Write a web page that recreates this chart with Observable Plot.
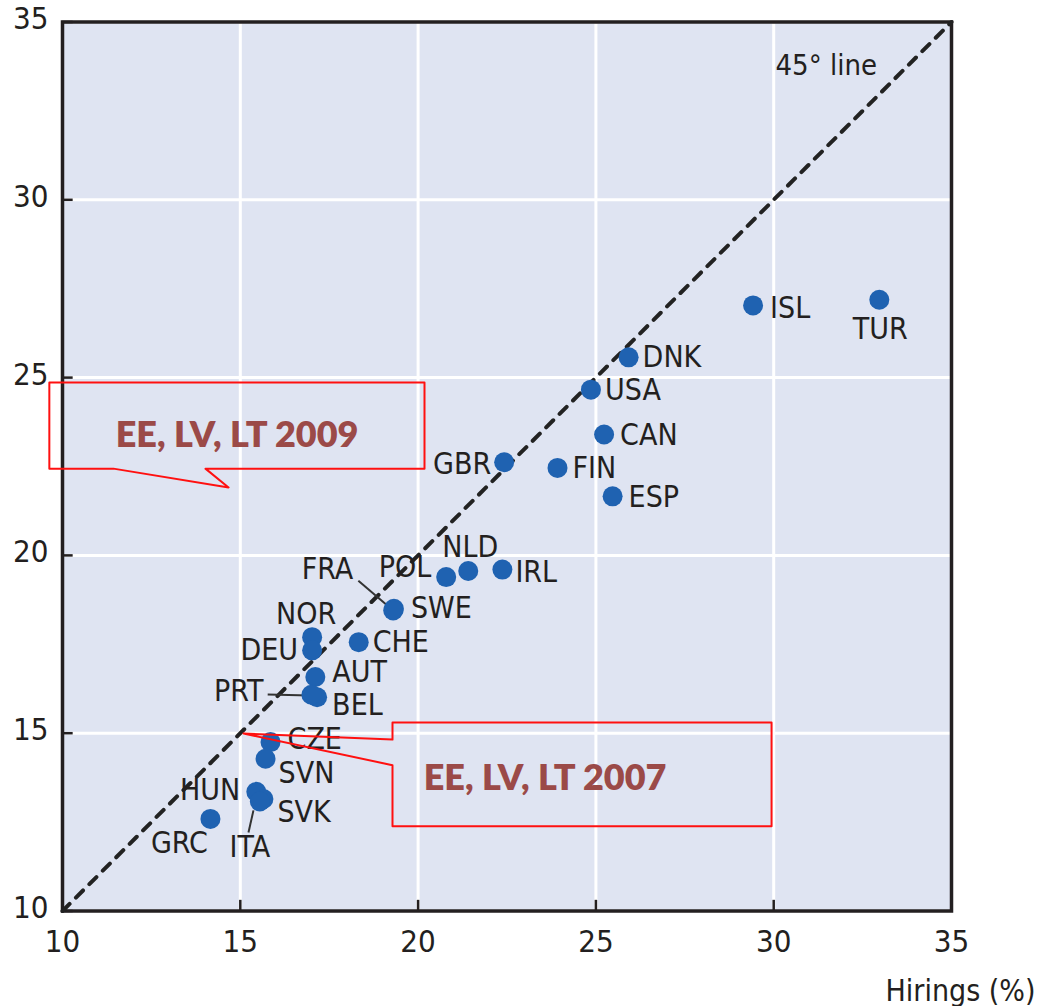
<!DOCTYPE html>
<html><head><meta charset="utf-8">
<script src="https://cdn.jsdelivr.net/npm/d3@7"></script>
<script src="https://cdn.jsdelivr.net/npm/@observablehq/plot@0.6"></script>
<style>
body{margin:0;background:#fff;}
#chart svg{display:block;overflow:visible;}
</style></head><body><div id="chart"></div>
<script>
// --- data ---
const countries = ["ISL","TUR","DNK","USA","CAN","GBR","FIN","ESP","IRL","NLD","POL","SWE","FRA","NOR","DEU","CHE","AUT","BEL","PRT","CZE","SVN","HUN","SVK","ITA","GRC"];
const hirings =     [29.42,32.97,25.92,24.86,25.23,22.42,23.92,25.47,22.37,21.41,20.79,19.32,19.30,17.02,17.02,18.33,17.11,17.16,17.00,15.85,15.71,15.45,15.65,15.55,14.16];
const separations = [27.03,27.19,25.57,24.66,23.40,22.62,22.46,21.66,19.60,19.56,19.39,18.50,18.45,17.70,17.33,17.56,16.58,16.01,16.08,14.75,14.28,13.35,13.15,13.08,12.59];
const xTicks = [10,15,20,25,30,35];
const yTicks = [10,15,20,25,30,35];
const xTitle = "Hirings (%)";
const diagonalLabel = "45° line";
const calloutTexts = ["EE, LV, LT 2009","EE, LV, LT 2007"];

// --- annotation geometry (data units) ---
const callout2009 = [[9.63,24.86],[20.18,24.86],[20.18,22.44],[14.02,22.44],[14.67,21.91],[11.43,22.44],[9.63,22.44],[9.63,24.86]];
const callout2007 = [[19.28,15.30],[29.94,15.30],[29.94,12.38],[19.28,12.38],[19.28,14.10],[15.09,14.99],[19.28,14.82],[19.28,15.30]];
const calloutTextPos = [[14.91,23.37],[23.57,13.73]];
const leaders = [
  {c:"FRA", x1:19.30, y1:18.45, x2:18.32, y2:19.29},
  {c:"PRT", x1:16.95, y1:16.06, x2:15.77, y2:16.09},
  {c:"ITA", x1:15.37, y1:12.83, x2:15.23, y2:12.21}
];
// label layout: [textAnchor, dx, dy] in pixels relative to the point
const labelLayout = {
  ISL:["start",17,3], TUR:["middle",1,30], DNK:["start",14,0], USA:["start",14,1],
  CAN:["start",16,1], GBR:["end",-13,2], FIN:["start",15,0], ESP:["start",16,1],
  IRL:["start",13,3], NLD:["middle",2,-24], POL:["end",-15,-10], SWE:["start",17,0],
  FRA:["end",-40,-41], NOR:["middle",-6,-23], DEU:["end",-14,0], CHE:["start",14,0],
  AUT:["start",17,-5], BEL:["start",15,8], PRT:["end",-48,-3], CZE:["start",17,-3],
  SVN:["start",13,15], HUN:["end",-16,-1], SVK:["start",14,13], ITA:["middle",-10,46],
  GRC:["middle",-31,24]
};

const pts = countries.map((c,i)=>({c, x:hirings[i], y:separations[i]}));
const dark = "#231f20";
const labelFont = "'Liberation Sans Narrow','DejaVu Sans Condensed','DejaVu Sans',sans-serif";

const labelMarks = pts.map(p => {
  const [a,dx,dy] = labelLayout[p.c];
  return Plot.text([p], {x:"x", y:"y", text:"c", textAnchor:a, dx, dy, fill:dark, fontSize:30, fontFamily:labelFont});
});

const chart = Plot.plot({
  width: 1039,
  height: 1006,
  marginLeft: 62,
  marginRight: 88,
  marginTop: 21.5,
  marginBottom: 95.5,
  style: {fontFamily: labelFont, fontSize: "32px", color: dark, background: "#fff"},
  x: {domain:[10,35], ticks: xTicks, label: null},
  y: {domain:[10,35], ticks: yTicks, label: null},
  marks: [
    Plot.frame({fill:"#dfe4f2", stroke:"none"}),
    Plot.gridX(xTicks, {stroke:"#fff", strokeOpacity:1, strokeWidth:3}),
    Plot.gridY(yTicks, {stroke:"#fff", strokeOpacity:1, strokeWidth:3}),
    Plot.ruleX(xTicks, {y1:10, y2:10.3, stroke:dark, strokeWidth:2.5}),
    Plot.ruleY(yTicks, {x1:10, x2:10.3, stroke:dark, strokeWidth:2.5}),
    Plot.frame({stroke:dark, strokeWidth:3.5}),
    Plot.axisX(xTicks, {tickSize:0, tickPadding:19, fontSize:31, fill:dark, label:null}),
    Plot.axisY(yTicks, {tickSize:0, tickPadding:14, fontSize:31, fill:dark, dy:-3, label:null}),
    Plot.line([[10,10],[35,35]], {stroke:"#222", strokeWidth:4, strokeDasharray:"10,9"}),
    Plot.text([diagonalLabel], {x:30.05, y:33.78, textAnchor:"start", fill:dark, fontSize:29, fontFamily:labelFont}),
    Plot.link(leaders, {x1:"x1", y1:"y1", x2:"x2", y2:"y2", stroke:"#333", strokeWidth:2}),
    Plot.dot(pts, {x:"x", y:"y", r:10, fill:"#1f62b1", stroke:"none"}),
    ...labelMarks,
    Plot.line(callout2009, {stroke:"#ff1010", strokeWidth:2, curve:"linear"}),
    Plot.line(callout2007, {stroke:"#ff1010", strokeWidth:2, curve:"linear"}),
    Plot.text(calloutTexts, {x:(d,i)=>calloutTextPos[i][0], y:(d,i)=>calloutTextPos[i][1], fill:"#9b4a48", fontSize:36, fontWeight:800, fontFamily:"Lato, 'Open Sans', sans-serif"}),
    Plot.text([xTitle], {frameAnchor:"bottom-right", dx:84, dy:90, textAnchor:"end", fill:dark, fontSize:30, fontFamily:labelFont})
  ]
});
document.getElementById("chart").appendChild(chart);
</script></body></html>
